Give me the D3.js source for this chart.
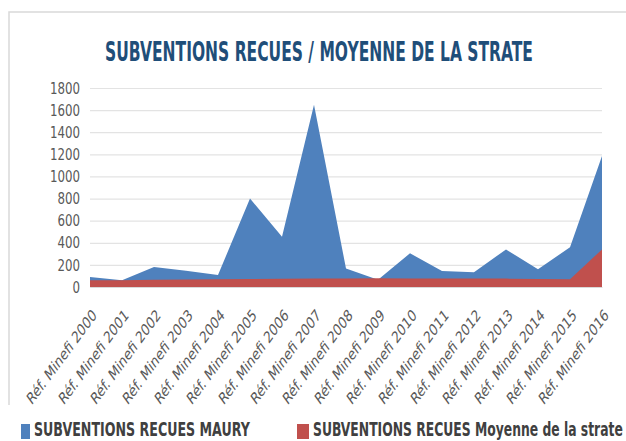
<!DOCTYPE html>
<html><head><meta charset="utf-8">
<script src="https://cdn.jsdelivr.net/npm/d3@7"></script>
<style>body{margin:0;background:#fff;}svg{display:block;}</style>
</head><body>
<svg id="c" width="626" height="441"></svg>
<script>
const categories = ["Réf. Minefi 2000","Réf. Minefi 2001","Réf. Minefi 2002","Réf. Minefi 2003","Réf. Minefi 2004","Réf. Minefi 2005","Réf. Minefi 2006","Réf. Minefi 2007","Réf. Minefi 2008","Réf. Minefi 2009","Réf. Minefi 2010","Réf. Minefi 2011","Réf. Minefi 2012","Réf. Minefi 2013","Réf. Minefi 2014","Réf. Minefi 2015","Réf. Minefi 2016"];
const maury = [90, 62, 182, 148, 108, 800, 455, 1648, 168, 66, 305, 145, 133, 340, 160, 360, 1185];
const strate = [60, 62, 65, 67, 70, 73, 75, 77, 78, 80, 78, 78, 78, 76, 72, 70, 340];
const yTicks = [0,200,400,600,800,1000,1200,1400,1600,1800];
const seriesNames = ["SUBVENTIONS RECUES MAURY","SUBVENTIONS RECUES Moyenne de la strate"];
const colors = ["#4F81BD","#C0504D"];

const FONT = "'DejaVu Sans Condensed',sans-serif";
const svg = d3.select("#c");
const x = d3.scalePoint().domain(categories).range([90, 602]);
const y = d3.scaleLinear().domain([0,1800]).range([287, 88]);

function fitText(sel, ax, ay, w, sy) {
  const nat = sel.node().getComputedTextLength();
  const sx = w / nat;
  sel.attr("x",0).attr("y",0).attr("transform",`translate(${ax},${ay}) scale(${sx},${sy})`);
}

// frame
svg.append("path").attr("d","M9,405 V12 H626").attr("fill","none").attr("stroke","#d9d9d9").attr("stroke-width",1.5);

// title
const title = svg.append("text").attr("text-anchor","middle")
  .attr("font-family",FONT).attr("font-weight","bold")
  .attr("font-size",19).attr("fill","#1F4E79")
  .text("SUBVENTIONS RECUES / MOYENNE DE LA STRATE");
fitText(title, 319, 61, 428, 1.4);

// grid + y axis
const yAxis = d3.axisLeft(y).tickValues(yTicks).tickFormat(d3.format("d")).tickSize(-(602-90)).tickPadding(10);
const gy = svg.append("g").attr("transform","translate(90,0)").call(yAxis);
gy.select(".domain").remove();
gy.selectAll(".tick line").attr("stroke","#e3e3e3").attr("stroke-width",1.2);
gy.selectAll(".tick text").attr("font-family",FONT).attr("font-size",16).attr("fill","#595959")
  .attr("textLength",d=>String(d).length*7.5).attr("lengthAdjust","spacingAndGlyphs");

const area = d3.area().x((d,i)=>x(categories[i])).y0(y(0)).y1(d=>y(d));
svg.append("path").datum(maury).attr("d",area).attr("fill",colors[0]);
svg.append("path").datum(strate).attr("d",area).attr("fill",colors[1]);

// x axis labels
const xAxis = d3.axisBottom(x).tickSize(0).tickPadding(0);
const gx = svg.append("g").attr("transform","translate(0,287)").call(xAxis);
gx.select(".domain").attr("stroke","#d9d9d9");
gx.selectAll(".tick text")
  .attr("font-family",FONT).attr("font-size",12).attr("fill","#595959")
  .attr("text-anchor","end").attr("dy","0.7em").attr("y",0)
  .attr("textLength",93).attr("lengthAdjust","spacingAndGlyphs")
  .attr("transform","translate(1,21) scale(1,1.36) rotate(-45)");

// legend
const lg = svg.append("g");
const lx = [21, 297];
const lw = [216, 310];
seriesNames.forEach((n,i)=>{
  lg.append("rect").attr("x",lx[i]).attr("y",424).attr("width",i===0?9:12).attr("height",15).attr("fill",colors[i]);
  const t = lg.append("text")
    .attr("font-family",FONT).attr("font-weight","bold").attr("font-size",16)
    .attr("fill","#404040").text(n);
  fitText(t, lx[i]+(i===0?13:16), 436, lw[i], 1.2);
});
</script>
</body></html>
